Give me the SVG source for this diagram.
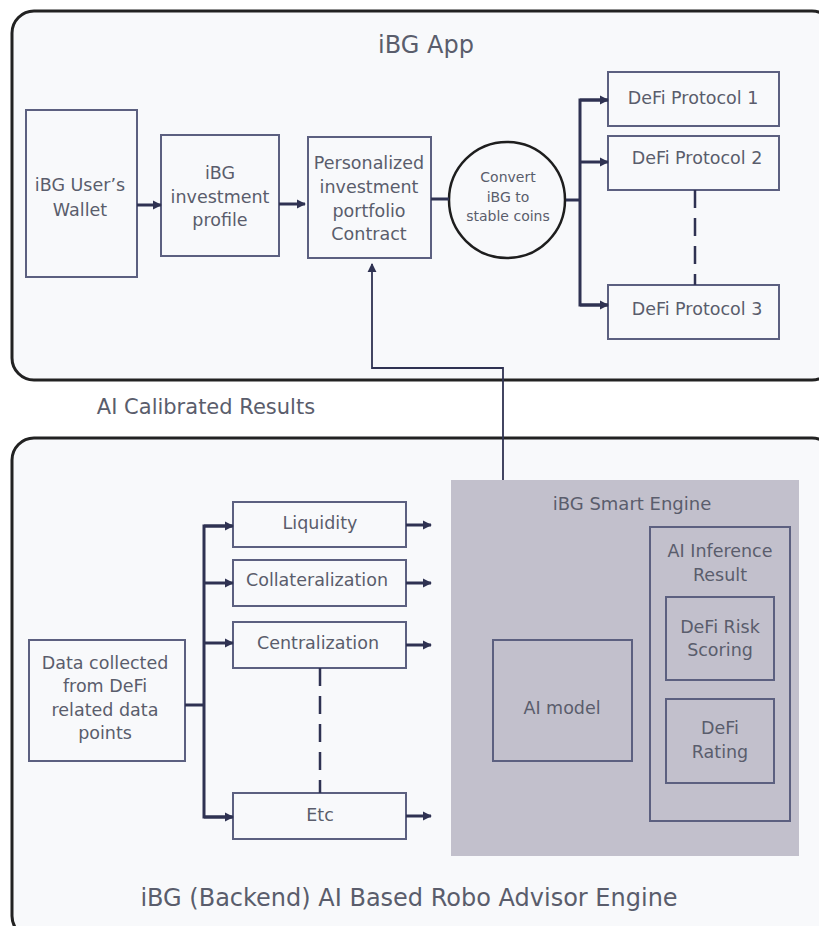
<svg xmlns="http://www.w3.org/2000/svg" width="819" height="926" viewBox="0 0 819 926">
<defs>
<marker id="ah" viewBox="0 0 10 10" refX="9" refY="5" markerWidth="3" markerHeight="3.2" orient="auto" markerUnits="strokeWidth">
<path d="M0,0 L10,5 L0,10 z" fill="#2f3252"/>
</marker>
<marker id="ahs" viewBox="0 0 10 10" refX="9" refY="5" markerWidth="5" markerHeight="6" orient="auto" markerUnits="strokeWidth">
<path d="M0,0 L10,5 L0,10 z" fill="#2f3252"/>
</marker>
</defs>
<style>
.cont{fill:#f8f9fb;stroke:#222;stroke-width:3}
.box{fill:none;stroke:#5c6080;stroke-width:2}
.wbox{fill:#f8f9fb;stroke:#5c6080;stroke-width:2}
text{font-family:"DejaVu Sans","Noto Sans",sans-serif;fill:#5a5d6c;text-anchor:middle}
.t{font-size:17.5px}
.s{font-size:14px}
.h{font-size:24px}
.c{fill:none;stroke:#2f3252;stroke-width:3}
.cn{fill:none;stroke:#2f3252;stroke-width:1.8}
.d{fill:none;stroke:#2f3252;stroke-width:2.5;stroke-dasharray:18 10}
</style>
<rect width="819" height="926" fill="#ffffff"/>
<g id="app">
<rect class="cont" x="12" y="11" width="822" height="369" rx="22"/>
<text class="h" x="426" y="53">iBG App</text>
</g>
<g id="backend">
<rect class="cont" x="12" y="438" width="822" height="500" rx="22"/>
<text x="409" y="906" style="font-size:24px">iBG (Backend) AI Based Robo Advisor Engine</text>
</g>
<g id="wallet">
<rect class="wbox" x="26" y="110" width="111" height="167"/>
<text class="t" x="80" y="191">iBG User’s</text>
<text class="t" x="80" y="216">Wallet</text>
</g>
<g id="profile">
<rect class="wbox" x="161" y="135" width="118" height="121"/>
<text class="t" x="220" y="179">iBG</text>
<text class="t" x="220" y="203">investment</text>
<text class="t" x="220" y="226">profile</text>
</g>
<g id="portfolio">
<rect class="wbox" x="308" y="137" width="123" height="121"/>
<text class="t" x="369" y="169">Personalized</text>
<text class="t" x="369" y="193">investment</text>
<text class="t" x="369" y="217">portfolio</text>
<text class="t" x="369" y="240">Contract</text>
</g>
<g id="convert">
<circle cx="507" cy="200" r="58" fill="#f8f9fb" stroke="#1e1e1e" stroke-width="2.5"/>
<text class="s" x="508" y="182">Convert</text>
<text class="s" x="508" y="202">iBG to</text>
<text class="s" x="508" y="221">stable coins</text>
</g>
<g id="p1">
<rect class="wbox" x="608" y="72" width="171" height="54"/>
<text class="t" x="693" y="104">DeFi Protocol 1</text>
</g>
<g id="p2">
<rect class="wbox" x="608" y="136" width="171" height="54"/>
<text class="t" x="697" y="164">DeFi Protocol 2</text>
</g>
<g id="p3">
<rect class="wbox" x="608" y="285" width="171" height="54"/>
<text class="t" x="697" y="315">DeFi Protocol 3</text>
</g>
<text x="206" y="414" style="font-size:21px">AI Calibrated Results</text>
<g id="engine">
<rect x="451" y="480" width="348" height="376" fill="#c2c0cc"/>
<text x="632" y="510" style="font-size:18px">iBG Smart Engine</text>
</g>
<g id="aimodel">
<rect class="box" x="493" y="640" width="139" height="121"/>
<text class="t" x="562" y="714">AI model</text>
</g>
<g id="inference">
<rect class="box" x="650" y="527" width="140" height="294"/>
<text class="t" x="720" y="557">AI Inference</text>
<text class="t" x="720" y="581">Result</text>
</g>
<g id="risk">
<rect class="box" x="666" y="597" width="108" height="83"/>
<text class="t" x="720" y="633">DeFi Risk</text>
<text class="t" x="720" y="656">Scoring</text>
</g>
<g id="rating">
<rect class="box" x="666" y="699" width="108" height="84"/>
<text class="t" x="720" y="734">DeFi</text>
<text class="t" x="720" y="758">Rating</text>
</g>
<g id="data">
<rect class="wbox" x="29" y="640" width="156" height="121"/>
<text class="t" x="105" y="669">Data collected</text>
<text class="t" x="105" y="692">from DeFi</text>
<text class="t" x="105" y="716">related data</text>
<text class="t" x="105" y="739">points</text>
</g>
<g id="liquidity">
<rect class="wbox" x="233" y="502" width="173" height="45"/>
<text class="t" x="320" y="529">Liquidity</text>
</g>
<g id="collat">
<rect class="wbox" x="233" y="560" width="173" height="46"/>
<text class="t" x="317" y="586">Collateralization</text>
</g>
<g id="central">
<rect class="wbox" x="233" y="622" width="173" height="46"/>
<text class="t" x="318" y="649">Centralization</text>
</g>
<g id="etc">
<rect class="wbox" x="233" y="793" width="173" height="46"/>
<text class="t" x="320" y="821">Etc</text>
</g>
<g id="connectors">
<line class="c" x1="137" y1="205" x2="161" y2="205" marker-end="url(#ah)"/>
<line class="c" x1="279" y1="204" x2="305" y2="204" marker-end="url(#ah)"/>
<line class="c" x1="431" y1="199" x2="449" y2="199"/>
<line class="c" x1="566" y1="200" x2="580" y2="200"/>
<polyline class="c" points="608,100 580,100 580,305 608,305"/>
<line class="c" x1="580" y1="100" x2="608" y2="100" marker-end="url(#ah)"/>
<line class="c" x1="580" y1="162" x2="608" y2="162" marker-end="url(#ah)"/>
<line class="c" x1="580" y1="305" x2="608" y2="305" marker-end="url(#ah)"/>
<line class="d" x1="695" y1="190" x2="695" y2="285"/>
<polyline class="cn" points="503,480 503,368 372,368 372,264" marker-end="url(#ahs)"/>
<line class="c" x1="185" y1="705" x2="204" y2="705"/>
<polyline class="c" points="232,526 204,526 204,817 232,817"/>
<line class="c" x1="204" y1="526" x2="233" y2="526" marker-end="url(#ah)"/>
<line class="c" x1="204" y1="583" x2="233" y2="583" marker-end="url(#ah)"/>
<line class="c" x1="204" y1="643" x2="233" y2="643" marker-end="url(#ah)"/>
<line class="c" x1="204" y1="817" x2="233" y2="817" marker-end="url(#ah)"/>
<line class="c" x1="406" y1="525" x2="431" y2="525" marker-end="url(#ah)"/>
<line class="c" x1="406" y1="583" x2="431" y2="583" marker-end="url(#ah)"/>
<line class="c" x1="406" y1="645" x2="431" y2="645" marker-end="url(#ah)"/>
<line class="c" x1="406" y1="816" x2="431" y2="816" marker-end="url(#ah)"/>
<line class="d" x1="320" y1="668" x2="320" y2="793"/>
</g>
</svg>
